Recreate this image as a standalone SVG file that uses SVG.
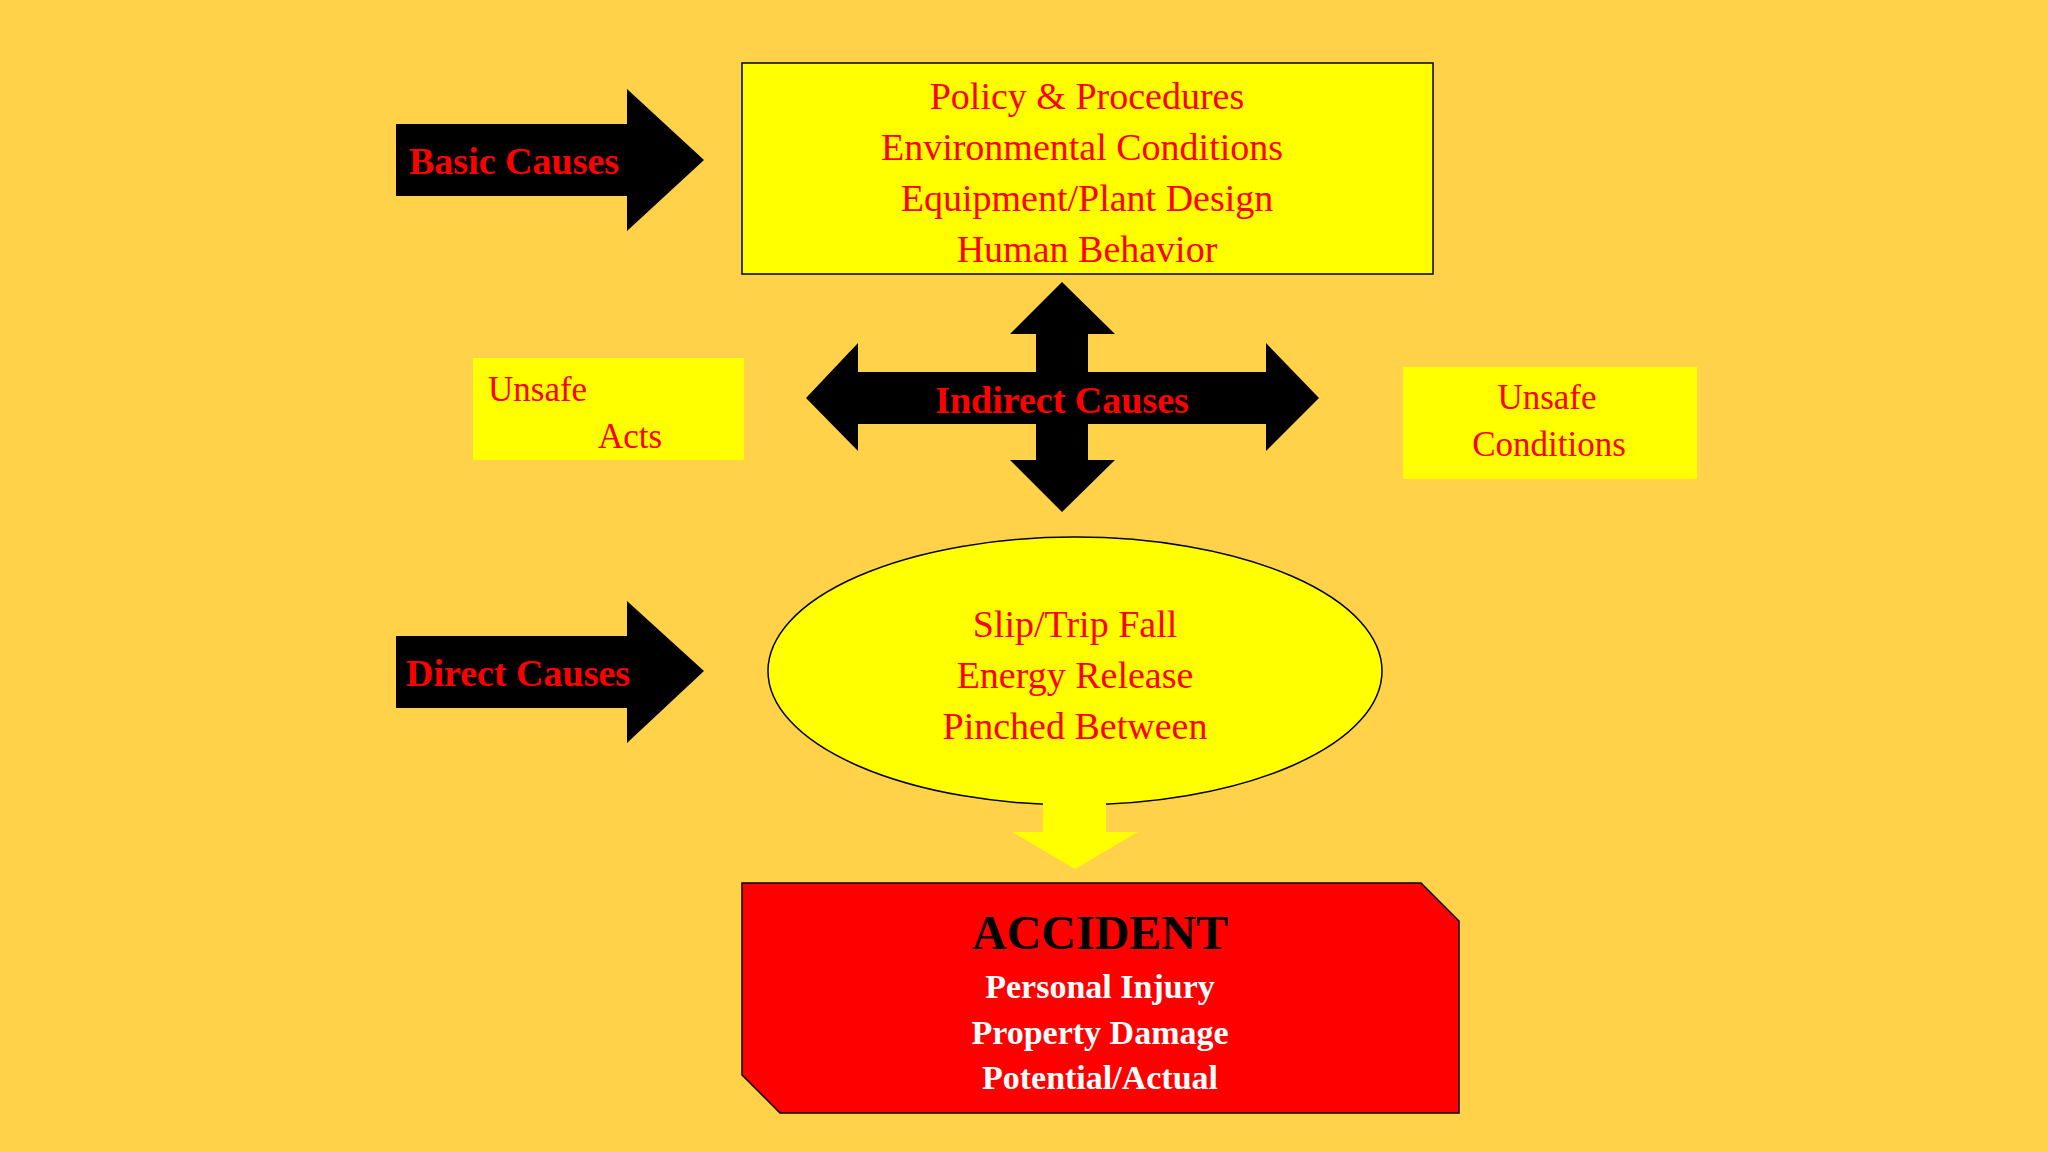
<svg xmlns="http://www.w3.org/2000/svg" width="2048" height="1152" viewBox="0 0 2048 1152">
<style>
text{font-family:"Liberation Serif","Times New Roman",serif;text-anchor:middle}
.r{fill:#FF0000;font-size:38px}
.b{font-weight:bold}
.w{fill:#FFFFFF;font-size:34px;font-weight:bold}
.y{fill:#FFFF00}
</style>
<rect width="2048" height="1152" fill="#FFD24A"/>
<g id="basic-causes">
<polygon points="396,124 627,124 627,89 704,160 627,231 627,196 396,196" fill="#000"/>
<text class="r b" x="409" y="174" style="text-anchor:start">Basic  Causes</text>
</g>
<g id="basic-box">
<rect x="742" y="63" width="691" height="211" class="y" stroke="#000" stroke-width="1.5"/>
<text class="r" x="1087" y="109">Policy &amp; Procedures</text>
<text class="r" x="1082" y="160">Environmental Conditions</text>
<text class="r" x="1087" y="211">Equipment/Plant Design</text>
<text class="r" x="1087" y="262">Human Behavior</text>
</g>
<g id="indirect-causes">
<polygon points="1062,282 1115,334 1088,334 1088,372 1266,372 1266,343 1319,398 1266,451 1266,424 1088,424 1088,460 1115,460 1062,512 1010,460 1036,460 1036,424 858,424 858,451 806,398 858,343 858,372 1036,372 1036,334 1010,334" fill="#000"/>
<text class="r b" x="1062" y="413">Indirect Causes</text>
</g>
<g id="unsafe-acts">
<rect x="473" y="358" width="271" height="102" class="y"/>
<text class="r" x="488" y="401" style="text-anchor:start;font-size:35px">Unsafe</text>
<text class="r" x="598" y="448" style="text-anchor:start;font-size:35px">Acts</text>
</g>
<g id="unsafe-conditions">
<rect x="1403" y="367" width="294" height="112" class="y"/>
<text class="r" x="1547" y="409" style="font-size:35px">Unsafe</text>
<text class="r" x="1549" y="456" style="font-size:35px">Conditions</text>
</g>
<g id="direct-causes">
<polygon points="396,636 627,636 627,601 704,671 627,743 627,708 396,708" fill="#000"/>
<text class="r b" x="406" y="686" style="text-anchor:start">Direct Causes</text>
</g>
<g id="direct-ellipse">
<ellipse cx="1075" cy="671" rx="307" ry="134" class="y" stroke="#000" stroke-width="1.5"/>
<text class="r" x="1075" y="637">Slip/Trip Fall</text>
<text class="r" x="1075" y="688">Energy Release</text>
<text class="r" x="1075" y="739">Pinched Between</text>
</g>
<g id="connectors">
<polygon points="1043,803 1106,803 1106,832 1138,832 1075,869 1012,832 1043,832" class="y"/>
</g>
<g id="accident">
<polygon points="742,883 1421,883 1459,921 1459,1113 780,1113 742,1075" fill="#FF0000" stroke="#000" stroke-width="1.5"/>
<text x="1100" y="949" style="font-size:48px;font-weight:bold;fill:#000">ACCIDENT</text>
<text class="w" x="1100" y="998">Personal Injury</text>
<text class="w" x="1100" y="1044">Property Damage</text>
<text class="w" x="1100" y="1089">Potential/Actual</text>
</g>
</svg>
